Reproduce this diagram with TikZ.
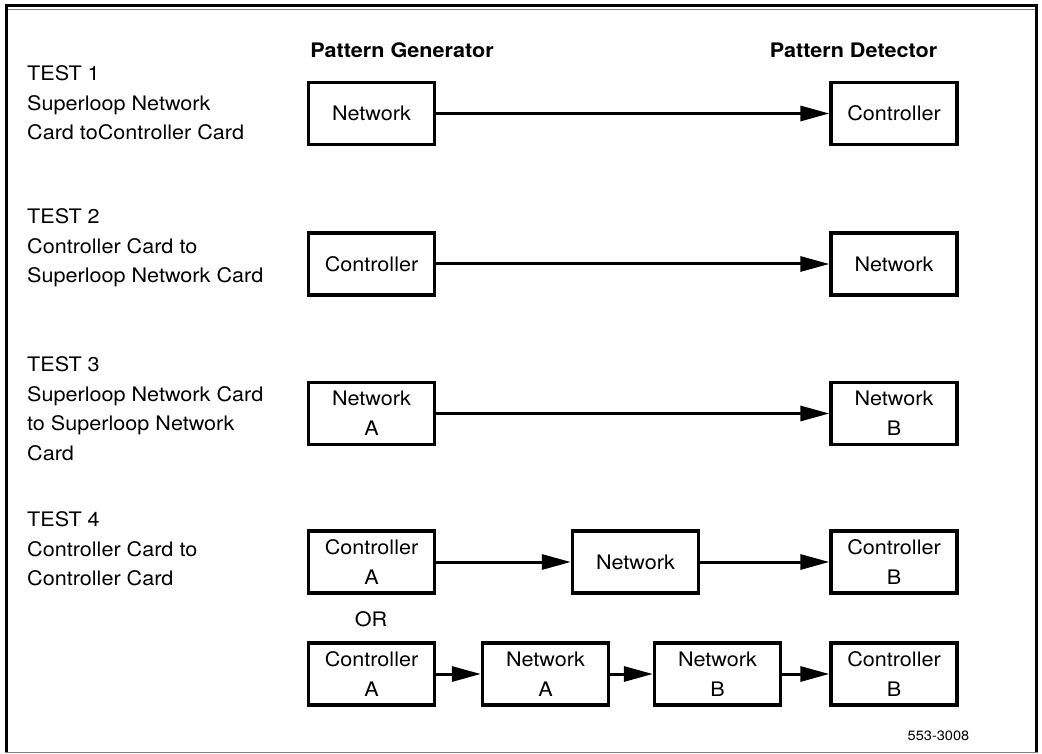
\documentclass[tikz,border=0pt]{standalone}
\usepackage{fontspec}
\setmainfont{TeX Gyre Heros}[FakeStretch=1.08]
\usetikzlibrary{arrows.meta}
\begin{document}
\begin{tikzpicture}[x=1pt,y=-1pt,
  box/.style={draw, line width=3.3pt, minimum width=126pt, minimum height=62pt, inner sep=0pt, align=center, font=\fontsize{20}{30}\selectfont},
  flow/.style={line width=3pt, -{Triangle[length=29pt,width=15pt]}},
  lbl/.style={anchor=north west, inner sep=0pt, align=left, font=\fontsize{20}{29.5}\selectfont},
  hdr/.style={inner sep=0pt, font=\bfseries\fontsize{20}{24}\selectfont},
  frame/.style={line width=3pt},
  thinframe/.style={line width=1.4pt, gray}]
\useasboundingbox (0,0) rectangle (1042,754);
% frame
\draw[frame] (6.5,4) -- (6.5,753);
\draw[frame] (5,5.5) -- (1038,5.5);
\draw[thinframe] (8,9.5) -- (1035,9.5);
\draw[frame] (1036.5,4) -- (1036.5,753);
\draw[thinframe] (5,752.5) -- (1038,752.5);
% headers
\node[hdr] (hgen) at (402,50) {Pattern Generator};
\node[hdr] (hdet) at (853.5,50) {Pattern Detector};
% test labels
\node[lbl] (t1) at (27,65.8) {TEST 1\\Superloop Network\\Card toController Card};
\node[lbl] (t2) at (27,208.8) {TEST 2\\Controller Card to\\Superloop Network Card};
\node[lbl] (t3) at (27,356.8) {TEST 3\\Superloop Network Card\\to Superloop Network\\Card};
\node[lbl] (t4) at (27,511.8) {TEST 4\\Controller Card to\\Controller Card};
% test 1
\node[box] (a1) at (371.5,113.5) {Network};
\node[box] (b1) at (894,113.5) {Controller};
\draw[flow] (a1.east) -- (b1.west);
% test 2
\node[box] (a2) at (371.5,264) {Controller};
\node[box] (b2) at (894,264) {Network};
\draw[flow] (a2.east) -- (b2.west);
% test 3
\node[box] (a3) at (371.5,413.5) {Network\\A};
\node[box] (b3) at (894,413.5) {Network\\B};
\draw[flow] (a3.east) -- (b3.west);
% test 4 row 1
\node[box] (a4) at (371.5,562) {Controller\\A};
\node[box] (m4) at (635.5,562) {Network};
\node[box] (b4) at (894,562) {Controller\\B};
\draw[flow] (a4.east) -- (m4.west);
\draw[flow] (m4.east) -- (b4.west);
% OR
\node[inner sep=0pt, font=\fontsize{20}{24}\selectfont] (or) at (371,619) {OR};
% test 4 row 2
\node[box] (c5) at (371.5,674) {Controller\\A};
\node[box] (n5) at (545.5,674) {Network\\A};
\node[box] (p5) at (717.5,674) {Network\\B};
\node[box] (d5) at (894,674) {Controller\\B};
\draw[flow] (c5.east) -- (n5.west);
\draw[flow] (n5.east) -- (p5.west);
\draw[flow] (p5.east) -- (d5.west);
% figure number
\node[inner sep=0pt, font=\fontsize{13.5}{16}\selectfont] (fig) at (938.5,736) {553-3008};
\end{tikzpicture}
\end{document}
